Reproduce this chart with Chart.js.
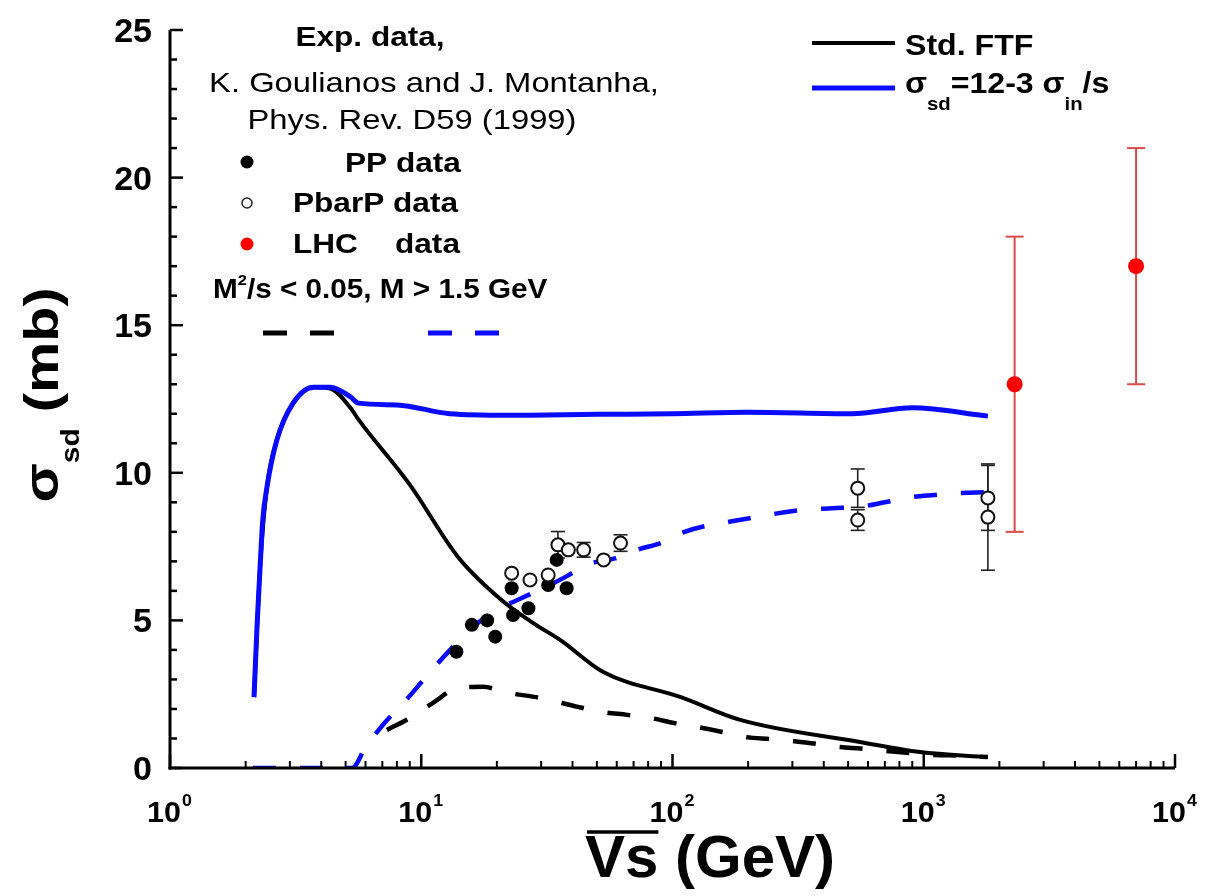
<!DOCTYPE html>
<html>
<head>
<meta charset="utf-8">
<script src="https://cdn.jsdelivr.net/npm/chart.js@4.4.0/dist/chart.umd.min.js"></script>
<style>
  html, body { margin: 0; padding: 0; background: #fff; }
  #c { display: block; }
</style>
</head>
<body>
<canvas id="c" width="1218" height="896"></canvas>
<script>
// sqrt(s) in GeV, sigma_sd in mb

// Std. FTF, full mass range
const ftfE  = [2.16, 2.28, 2.43, 2.66, 3.09, 3.72, 4.35, 5.23, 5.63, 9.0, 14, 20.8, 28, 35.7, 53, 108, 186, 557, 966, 1800];
const ftfSd = [2.4, 6.7, 9.5, 11.1, 12.36, 12.9, 12.85, 12.2, 11.8, 9.6, 7.15, 5.7, 4.9, 4.34, 3.25, 2.4, 1.63, 0.88, 0.54, 0.37];

// sigma_sd = 12 - 3 sigma_in / s
const fitE  = [2.16, 2.22, 2.28, 2.34, 2.43, 2.66, 3.09, 3.72, 4.35, 5.23, 5.63, 8, 13, 22, 50, 100, 200, 517, 899, 1800];
const fitSd = [2.4, 4.8, 6.7, 8.4, 9.5, 11.1, 12.36, 12.9, 12.9, 12.57, 12.36, 12.3, 12.0, 11.95, 11.98, 12.0, 12.05, 12.0, 12.2, 11.92];

// same two models with the cut M^2/s < 0.05, M > 1.5 GeV
const ftfCutE  = [7.3, 9.0, 11.1, 13.9, 17.6, 22, 30, 42, 52.5, 66, 81, 102, 125, 158, 195, 243, 300, 380, 465, 560, 700, 906, 1100, 1400, 1800];
const ftfCutSd = [1.29, 1.69, 2.2, 2.7, 2.75, 2.55, 2.37, 2.07, 1.9, 1.8, 1.7, 1.52, 1.39, 1.22, 1.05, 0.98, 0.92, 0.81, 0.71, 0.66, 0.58, 0.5, 0.44, 0.42, 0.37];
const fitCutE  = [2.14, 5.3, 6.0, 7.1, 8.7, 10.6, 12.7, 15.7, 19.5, 25, 30.8, 38, 46, 59, 73, 92, 108, 200, 327, 432, 560, 700, 900, 1100, 1300, 1800];
const fitCutSd = [0, 0, 0.7, 1.5, 2.3, 3.15, 3.9, 4.7, 5.3, 5.75, 6.1, 6.5, 6.9, 7.1, 7.4, 7.65, 7.96, 8.45, 8.74, 8.8, 8.85, 9.0, 9.18, 9.25, 9.3, 9.35];

// measurements
const ppE  = [13.8, 15.9, 18.3, 19.7, 22.9, 23.2, 26.7, 32.0, 34.6, 37.9];
const ppSd = [3.94, 4.85, 5.0, 4.45, 6.09, 5.18, 5.41, 6.2, 7.05, 6.09];

const pbarE   = [22.9, 27.1, 32.0, 35.0, 38.5, 44.3, 53.2, 62.1, 546, 546, 1800, 1800];
const pbarSd  = [6.6, 6.37, 6.54, 7.56, 7.39, 7.39, 7.05, 7.62, 9.48, 8.4, 9.15, 8.5];
const pbarErr = [0, 0, 0, 0.45, 0, 0.25, 0, 0.28, 0.65, 0.35, 1.1, 1.8];

const lhcE   = [2300, 7000];
const lhcSd  = [13, 17];
const lhcErr = [5, 4];

const yTicks = [0, 5, 10, 15, 20, 25];
const xDecades = [0, 1, 2, 3, 4];

const BLUE = '#0a0aff';
const FONT = '"Liberation Sans", Arial, sans-serif';

const pts = (xs, ys) => xs.map((x, i) => ({ x: x, y: ys[i] }));

// text with horizontal stretch; parts = [{t, size, bold, dy}]
function drawRun(ctx, parts, x, y, align, sx) {
  sx = sx || 1;
  let total = 0;
  parts.forEach(p => {
    ctx.font = (p.bold === false ? '' : 'bold ') + p.size + 'px ' + FONT;
    p.w = ctx.measureText(p.t).width * sx;
    total += p.w;
  });
  let cx = align === 'center' ? x - total / 2 : align === 'right' ? x - total : x;
  const start = cx;
  parts.forEach(p => {
    ctx.save();
    ctx.font = (p.bold === false ? '' : 'bold ') + p.size + 'px ' + FONT;
    ctx.textAlign = 'left';
    ctx.textBaseline = 'alphabetic';
    ctx.translate(cx, y + (p.dy || 0));
    ctx.scale(sx, 1);
    ctx.fillText(p.t, 0, 0);
    ctx.restore();
    cx += p.w;
  });
  return { start: start, end: cx };
}

function line(ctx, x1, y1, x2, y2, w, color) {
  ctx.save();
  ctx.strokeStyle = color;
  ctx.lineWidth = w;
  ctx.beginPath();
  ctx.moveTo(x1, y1);
  ctx.lineTo(x2, y2);
  ctx.stroke();
  ctx.restore();
}

function dot(ctx, x, y, r, fill, stroke, lw) {
  ctx.save();
  ctx.beginPath();
  ctx.arc(x, y, r, 0, Math.PI * 2);
  ctx.fillStyle = fill;
  ctx.fill();
  if (stroke) { ctx.strokeStyle = stroke; ctx.lineWidth = lw; ctx.stroke(); }
  ctx.restore();
}

// vertical error bars, drawn under the markers
const errorBars = {
  id: 'errorBars',
  beforeDatasetsDraw(chart) {
    const { ctx, scales: { x, y } } = chart;
    const bars = (xs, ys, es, color, lw, cap) => {
      xs.forEach((e, i) => {
        if (!es[i]) return;
        const px = x.getPixelForValue(e);
        const top = y.getPixelForValue(ys[i] + es[i]);
        const bot = y.getPixelForValue(ys[i] - es[i]);
        line(ctx, px, top, px, bot, lw, color);
        line(ctx, px - cap, top, px + cap, top, lw, color);
        line(ctx, px - cap, bot, px + cap, bot, lw, color);
      });
    };
    bars(pbarE, pbarSd, pbarErr, '#222', 1.6, 7);
    bars(lhcE, lhcSd, lhcErr, '#d94a4a', 2, 9);
  }
};

// axes, ticks, tick labels, titles and legend text
const decorations = {
  id: 'decorations',
  afterDraw(chart) {
    const { ctx, chartArea: a, scales: { x, y } } = chart;
    ctx.save();
    ctx.fillStyle = '#000';

    // axis lines
    line(ctx, a.left, a.top, a.left, a.bottom + 1.5, 3, '#000');
    line(ctx, a.left - 1.5, a.bottom, a.right, a.bottom, 3, '#000');

    // y ticks, pointing inwards
    for (let v = 0; v <= 25; v++) {
      const py = y.getPixelForValue(v);
      const len = v % 5 === 0 ? 13 : 7;
      line(ctx, a.left, py, a.left + len, py, 2.5, '#000');
    }
    yTicks.forEach(v => {
      drawRun(ctx, [{ t: String(v), size: 34 }], 152, y.getPixelForValue(v) + 12, 'right');
    });

    // x ticks on the log axis
    xDecades.forEach(d => {
      const base = Math.pow(10, d);
      line(ctx, x.getPixelForValue(base), a.bottom, x.getPixelForValue(base), a.bottom - 14, 2.5, '#000');
      if (d < 4) {
        for (let m = 2; m <= 9; m++) {
          const px = x.getPixelForValue(base * m);
          line(ctx, px, a.bottom, px, a.bottom - 7, 2, '#000');
        }
      }
      const px = x.getPixelForValue(base);
      const r = drawRun(ctx, [{ t: '10', size: 29 }], px - 6, 822, 'center', 1.05);
      drawRun(ctx, [{ t: String(d), size: 17 }], r.end + 1, 806, 'left', 1.05);
    });

    // x title: sqrt(s) written as an overlined Vs
    const xt = drawRun(ctx, [{ t: 'Vs', size: 60 }, { t: ' (GeV)', size: 60 }], 710, 877, 'center');
    ctx.font = 'bold 60px ' + FONT;
    const vsW = ctx.measureText('Vs').width;
    line(ctx, xt.start + 2, 832, xt.start + vsW, 832, 3.5, '#000');

    // y title, rotated
    ctx.save();
    ctx.translate(58, 395);
    ctx.rotate(-Math.PI / 2);
    drawRun(ctx, [
      { t: 'σ', size: 48 },
      { t: 'sd', size: 25, dy: 21 },
      { t: ' (mb)', size: 48 }
    ], 0, 0, 'center', 1.2);
    ctx.restore();

    // reference block, upper left
    const sx = 1.17;
    drawRun(ctx, [{ t: 'Exp. data,', size: 27 }], 370, 46, 'center', sx);
    drawRun(ctx, [{ t: 'K. Goulianos and J. Montanha,', size: 28, bold: false }], 434, 92, 'center', sx);
    drawRun(ctx, [{ t: 'Phys. Rev. D59 (1999)', size: 28, bold: false }], 412, 129, 'center', sx);

    dot(ctx, 247, 162, 6.5, '#000');
    drawRun(ctx, [{ t: 'PP data', size: 27 }], 345, 172, 'left', sx);
    dot(ctx, 247, 203, 5, '#fff', '#222', 1.5);
    drawRun(ctx, [{ t: 'PbarP data', size: 27 }], 293, 212, 'left', sx);
    dot(ctx, 247, 244, 6.5, '#ff0000');
    drawRun(ctx, [{ t: 'LHC', size: 27 }], 293, 253, 'left', sx);
    drawRun(ctx, [{ t: 'data', size: 27 }], 395, 253, 'left', sx);

    drawRun(ctx, [
      { t: 'M', size: 27 },
      { t: '2', size: 15, dy: -13 },
      { t: '/s < 0.05, M > 1.5 GeV', size: 27 }
    ], 213, 298, 'left', 1.1);

    ctx.save();
    ctx.lineWidth = 5;
    ctx.strokeStyle = '#000';
    ctx.setLineDash([24, 23]);
    ctx.beginPath(); ctx.moveTo(263, 333); ctx.lineTo(336, 333); ctx.stroke();
    ctx.strokeStyle = BLUE;
    ctx.beginPath(); ctx.moveTo(428, 333); ctx.lineTo(499, 333); ctx.stroke();
    ctx.restore();

    // model legend, upper right
    line(ctx, 812, 43, 895, 43, 4, '#000');
    drawRun(ctx, [{ t: 'Std. FTF', size: 30 }], 905, 55, 'left', 1.07);
    line(ctx, 812, 88, 895, 88, 5, BLUE);
    drawRun(ctx, [
      { t: 'σ', size: 30 },
      { t: 'sd', size: 19, dy: 17 },
      { t: '=12-3 σ', size: 30 },
      { t: 'in', size: 19, dy: 17 },
      { t: '/s', size: 30 }
    ], 905, 93, 'left', 1.07);

    ctx.restore();
  }
};

const curve = (label, xs, ys, color, width, dash, order) => ({
  label: label,
  data: pts(xs, ys),
  showLine: true,
  borderColor: color,
  borderWidth: width,
  borderDash: dash || [],
  pointRadius: 0,
  cubicInterpolationMode: 'monotone',
  fill: false,
  order: order
});

new Chart(document.getElementById('c').getContext('2d'), {
  type: 'scatter',
  data: {
    datasets: [
      {
        label: 'LHC data',
        data: pts(lhcE, lhcSd),
        pointRadius: 8,
        pointBackgroundColor: '#ff0000',
        pointBorderColor: '#ff0000',
        pointBorderWidth: 0,
        order: 0
      },
      {
        label: 'PbarP data',
        data: pts(pbarE, pbarSd),
        pointRadius: 6.5,
        pointBackgroundColor: '#fff',
        pointBorderColor: '#111',
        pointBorderWidth: 2,
        order: 1
      },
      {
        label: 'PP data',
        data: pts(ppE, ppSd),
        pointRadius: 7,
        pointBackgroundColor: '#000',
        pointBorderColor: '#000',
        pointBorderWidth: 0,
        order: 2
      },
      curve('sigma_sd = 12 - 3 sigma_in/s', fitE, fitSd, BLUE, 5, null, 3),
      curve('Std. FTF', ftfE, ftfSd, '#000', 4, null, 4),
      curve('12-3 sigma_in/s, cut', fitCutE, fitCutSd, BLUE, 4.5, [23, 24], 5),
      curve('Std. FTF, cut', ftfCutE, ftfCutSd, '#000', 4.5, [23, 24], 6)
    ]
  },
  options: {
    responsive: false,
    animation: false,
    devicePixelRatio: 1,
    layout: { padding: { left: 170, right: 43, top: 30, bottom: 128 } },
    plugins: {
      legend: { display: false },
      tooltip: { enabled: false }
    },
    scales: {
      x: { type: 'logarithmic', min: 1, max: 10000, display: false },
      y: { type: 'linear', min: 0, max: 25, display: false }
    }
  },
  plugins: [errorBars, decorations]
});
</script>
</body>
</html>
